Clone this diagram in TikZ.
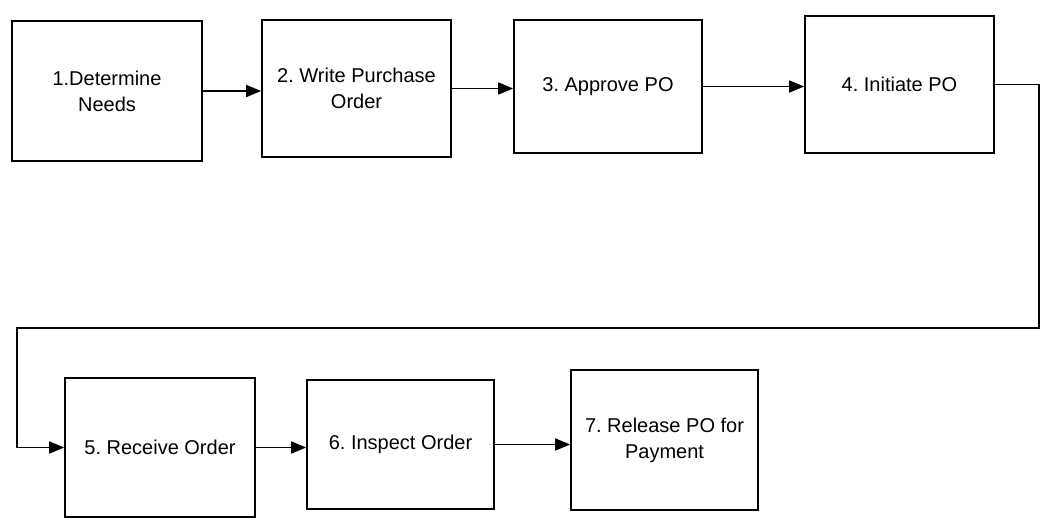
\documentclass[tikz,border=0pt]{standalone}
\usepackage{fontspec}
\setmainfont{Liberation Sans}
\usetikzlibrary{arrows.meta}
\frenchspacing
\tikzset{
  stepbox/.style={draw=black, line width=1.7pt, fill=white, align=center, inner sep=0pt,
    font=\fontsize{20}{26}\selectfont},
  flow/.style={draw=black, line width=1.7pt, -{Triangle[length=15pt,width=12pt]}}
}
\begin{document}
\begin{tikzpicture}[x=1pt,y=-1pt]
\useasboundingbox[fill=white] (0,0) rectangle (1043,529);
% top row
\node[stepbox, minimum width=190pt, minimum height=140pt] (b1) at (107,91) {1.Determine\\Needs};
\node[stepbox, minimum width=189pt, minimum height=137pt] (b2) at (356.5,88.5) {2. Write Purchase\\Order};
\node[stepbox, minimum width=188pt, minimum height=133pt] (b3) at (608,86.5) {3. Approve PO};
\node[stepbox, minimum width=189pt, minimum height=137pt] (b4) at (899.5,84.5) {4. Initiate PO};
% bottom row
\node[stepbox, minimum width=190pt, minimum height=139pt] (b5) at (160,447.5) {5. Receive Order};
\node[stepbox, minimum width=187pt, minimum height=129pt] (b6) at (400.5,444.5) {6. Inspect Order};
\node[stepbox, minimum width=187pt, minimum height=140pt] (b7) at (664.5,440) {7. Release PO for\\Payment};
% connectors
\draw[flow] (b1.east) -- (b1.east -| b2.west);
\draw[flow] (b2.east) -- (b2.east -| b3.west);
\draw[flow] (b3.east) -- (b3.east -| b4.west);
\coordinate (r) at (1039,328);
\coordinate (l) at (17,328);
\draw[flow] (b4.east) -| (r) -- (l) |- (b5.west);
\draw[flow] (b5.east) -- (b5.east -| b6.west);
\draw[flow] (b6.east) -- (b6.east -| b7.west);
\end{tikzpicture}
\end{document}
